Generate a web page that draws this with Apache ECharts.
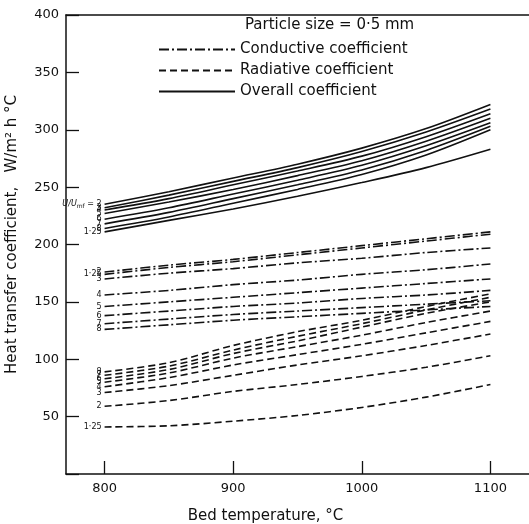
<!DOCTYPE html>
<html><head><meta charset="utf-8">
<script src="https://cdn.jsdelivr.net/npm/echarts@6/dist/echarts.min.js"></script>
<style>html,body{margin:0;padding:0;background:#fff}#c{width:529px;height:524px}</style>
</head><body><div id="c"></div>
<script>
const temps = [800, 850, 900, 950, 1000, 1050, 1100];
const xTicks = [800, 900, 1000, 1100];

// Conductive coefficient (dash-dot), by U/Umf
const condLabels = ['2', '1·25', '3', '4', '5', '6', '7', '8'];
const cond_2   = [176, 182, 187, 193, 199, 205, 211];
const cond_125 = [174, 180, 185, 191, 197, 203, 209];
const cond_3   = [170, 175, 179, 184, 188, 193, 197];
const cond_4   = [156, 160, 165, 169, 174, 178, 183];
const cond_5   = [146, 150, 154, 158, 162, 166, 170];
const cond_6   = [138, 142, 146, 149, 153, 156, 160];
const cond_7   = [131, 135, 139, 142, 145, 148, 151];
const cond_8   = [126, 130, 134, 137, 140, 143, 146];

// Radiative coefficient (dashed)
const radLabels = ['8', '7', '6', '5', '4', '3', '2', '1·25'];
const rad_8   = [89, 97, 112, 124, 134, 146, 157];
const rad_7   = [86, 94, 108, 120, 131, 143, 154];
const rad_6   = [83, 91, 105, 116, 128, 140, 150];
const rad_5   = [80, 88, 101, 111, 121, 132, 142];
const rad_4   = [76, 84, 95, 104, 113, 123, 133];
const rad_3   = [71, 77, 86, 95, 103, 112, 122];
const rad_2   = [59, 64, 72, 78, 85, 93, 103];
const rad_125 = [41, 42, 46, 51, 58, 67, 78];

// Overall coefficient (solid)
const totLabels = ['2', '3', '4', '5', '6', '7', '8', '1·25'];
const tot_2   = [235, 246, 258, 270, 284, 301, 322];
const tot_3   = [232, 243, 255, 267, 281, 298, 318];
const tot_4   = [230, 240, 252, 264, 277, 294, 314];
const tot_5   = [227, 237, 248, 260, 273, 290, 310];
const tot_6   = [222, 232, 244, 256, 269, 286, 306];
const tot_7   = [218, 228, 240, 252, 265, 282, 303];
const tot_8   = [214, 224, 236, 248, 261, 278, 300];
const tot_125 = [211, 221, 231, 242, 254, 267, 283];

const condSets = [cond_2, cond_125, cond_3, cond_4, cond_5, cond_6, cond_7, cond_8];
const radSets = [rad_8, rad_7, rad_6, rad_5, rad_4, rad_3, rad_2, rad_125];
const totSets = [tot_2, tot_3, tot_4, tot_5, tot_6, tot_7, tot_8, tot_125];

const FONT = 'DejaVu Sans';
const INK = '#111';

function mk(name, vals, lbl, dash, isFirst) {
  return {
    type: 'line', name: name, symbol: 'circle', symbolSize: 0.01, showSymbol: true,
    lineStyle: { color: INK, width: 1.6, type: dash },
    itemStyle: { color: INK },
    smooth: 0.3,
    emphasis: { disabled: true },
    labelLayout: { hideOverlap: false },
    data: temps.map((t, i) => i === 0 ? {
      value: [t, vals[i]],
      label: {
        show: true, position: 'left', distance: 3,
        fontFamily: FONT, fontSize: 8, color: INK,
        formatter: isFirst ? '{i|U/U}{s|mf}{i| = }' + lbl : lbl,
        rich: { i: { fontStyle: 'italic', fontSize: 8, fontFamily: FONT }, s: { fontSize: 6, fontFamily: FONT, padding: [5, 0, 0, 0] } }
      }
    } : [t, vals[i]])
  };
}

const series = [];
condSets.forEach((v, k) => series.push(mk('Conductive coefficient', v, condLabels[k], [10, 3, 2, 3], false)));
radSets.forEach((v, k) => series.push(mk('Radiative coefficient', v, radLabels[k], [7, 4], false)));
totSets.forEach((v, k) => series.push(mk('Overall coefficient', v, totLabels[k], 'solid', k === 0)));

const chart = echarts.init(document.getElementById('c'), null, { renderer: 'canvas' });
chart.setOption({
  animation: false,
  backgroundColor: '#fff',
  textStyle: { fontFamily: FONT, color: INK },
  title: {
    text: 'Particle size = 0·5 mm', left: 240, top: 13,
    textStyle: { fontFamily: FONT, fontSize: 15, fontWeight: 'normal', color: INK }
  },
  legend: {
    orient: 'vertical', left: 153, top: 37, itemWidth: 76, itemHeight: 12, itemGap: 6,
    data: ['Conductive coefficient', 'Radiative coefficient', 'Overall coefficient'],
    textStyle: { fontFamily: FONT, fontSize: 15, color: INK },
    itemStyle: { opacity: 0 }
  },
  grid: { left: 66, right: 0, top: 15, bottom: 50, outerBoundsMode: 'none', containLabel: false },
  xAxis: [{
    type: 'value', min: 770, max: 1130,
    name: 'Bed temperature, °C', nameLocation: 'middle', nameGap: 35,
    nameTextStyle: { fontFamily: FONT, fontSize: 15, color: INK, padding: [0, 64, 0, 0] },
    axisLine: { lineStyle: { color: INK, width: 1.5 } },
    axisTick: { inside: true, length: 13, customValues: xTicks, lineStyle: { color: INK, width: 1.3 } },
    axisLabel: { customValues: xTicks, fontFamily: FONT, fontSize: 13, color: INK, margin: 8, formatter: v => String(v) },
    splitLine: { show: false }
  }, {
    type: 'value', position: 'top', min: 770, max: 1130,
    axisLine: { show: true, lineStyle: { color: INK, width: 1.5 } },
    axisTick: { show: false }, axisLabel: { show: false }, splitLine: { show: false }
  }],
  yAxis: {
    type: 'value', min: 0, max: 400, interval: 50,
    name: 'Heat transfer coefficient,   W/m² h °C', nameLocation: 'middle', nameGap: 46,
    nameTextStyle: { fontFamily: FONT, fontSize: 15, color: INK, padding: [0, 0, 0, 20] },
    axisLine: { show: true, lineStyle: { color: INK, width: 1.5 } },
    axisTick: { show: true, inside: true, length: 13, lineStyle: { color: INK, width: 1.3 } },
    axisLabel: { fontFamily: FONT, fontSize: 13, color: INK, margin: 7, formatter: v => v === 0 ? '' : String(v) },
    splitLine: { show: false }
  },
  series: series
});
</script></body></html>
